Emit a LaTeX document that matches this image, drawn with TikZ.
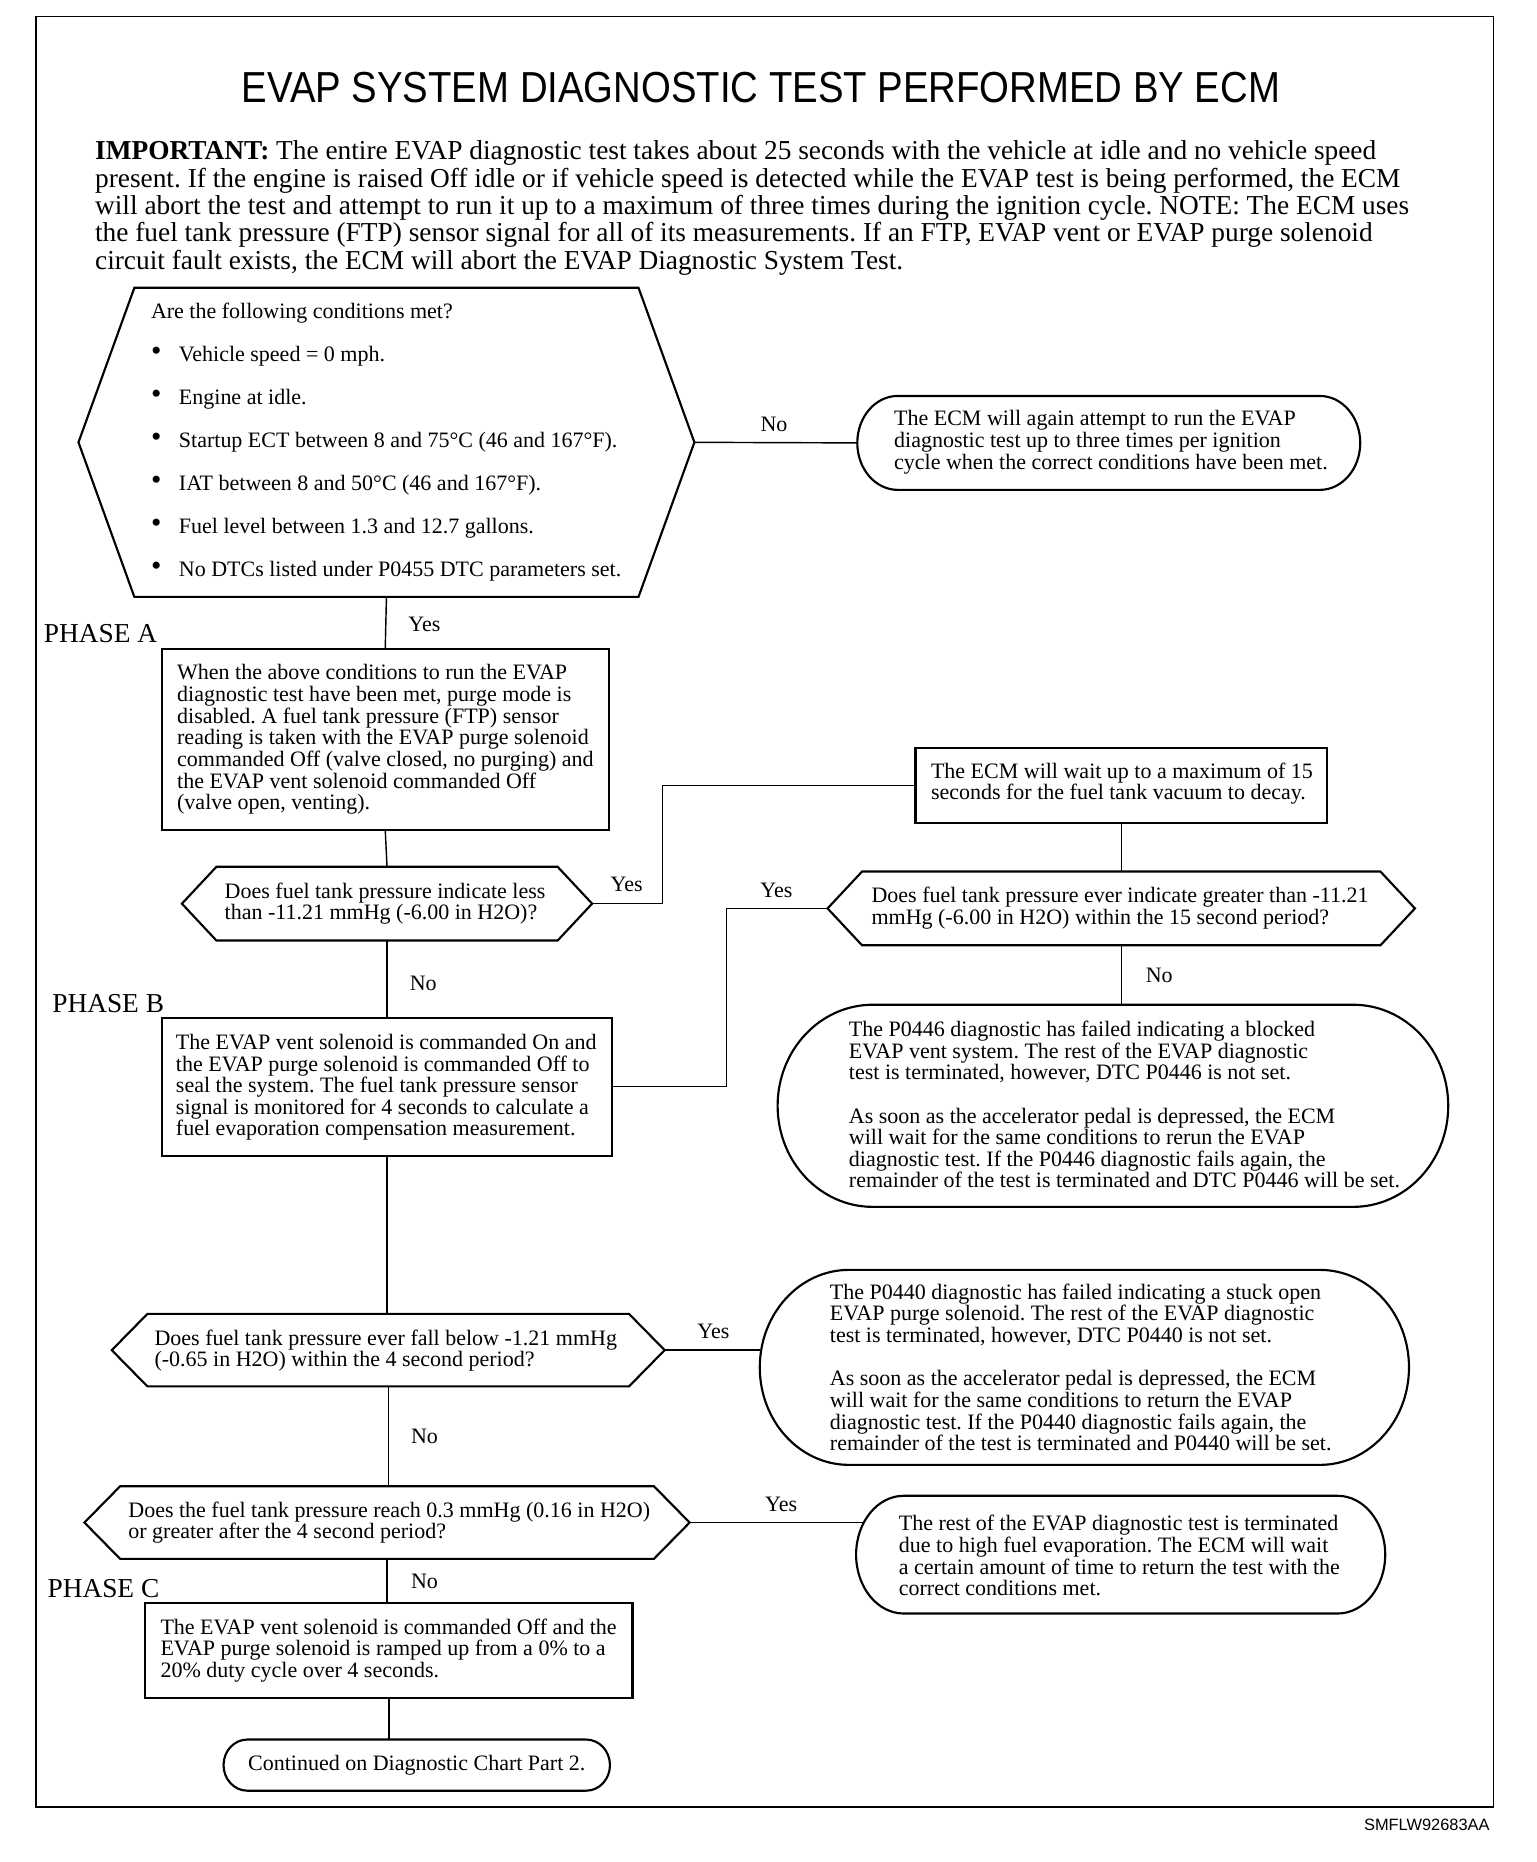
\documentclass[tikz,border=0pt]{standalone}
\usepackage{fontspec}
\setmainfont{Liberation Serif}
\newfontfamily\titlefont{Liberation Sans}[FakeStretch=0.883]
\newfontfamily\codefont{Liberation Sans}
\frenchspacing
\newcommand\hexfig[6]{%
  \node[bbox, minimum width={#3-#2}, minimum height={#5-#4}] (#1) at ({(#2+#3)/2},{(#4+#5)/2}) {};
  \draw[shapeline] ([xshift=#6pt]#1.north west) -- ([xshift=-#6pt]#1.north east) -- (#1.east)
    -- ([xshift=-#6pt]#1.south east) -- ([xshift=#6pt]#1.south west) -- (#1.west) -- cycle;}
\newcommand\roundfig[7]{%
  \node[bbox, minimum width={#3-#2}, minimum height={#5-#4}] (#1) at ({(#2+#3)/2},{(#4+#5)/2}) {};
  \draw[shapeline] ([xshift=#6pt]#1.north west) -- ([xshift=-#6pt]#1.north east)
    arc[start angle=90, end angle=-90, x radius=#6pt, y radius=#7pt]
    -- ([xshift=#6pt]#1.south west)
    arc[start angle=270, end angle=90, x radius=#6pt, y radius=#7pt] -- cycle;}
\newcommand\rectfig[5]{%
  \node[bbox, draw, shapeline, minimum width={#3-#2}, minimum height={#5-#4}] (#1) at ({(#2+#3)/2},{(#4+#5)/2}) {};}
\newcommand\bul{\makebox[23.5pt][l]{\raisebox{0.5pt}{\scalebox{1.35}{\textbullet}}}}
\begin{document}
\begin{tikzpicture}[x=1pt,y=-1pt,
  bbox/.style={rectangle, inner sep=0pt, outer sep=0pt},
  shapeline/.style={line width=1.8pt, line join=miter},
  conn/.style={line width=1.2pt},
  framel/.style={line width=1.4pt},
  txt/.style={inner sep=0pt, outer sep=0pt, anchor=west, align=left, font=\fontsize{18.5}{18.2}\selectfont},
  lbl/.style={inner sep=0pt, outer sep=0pt, font=\fontsize{18.5}{20}\selectfont},
  phase/.style={inner sep=0pt, outer sep=0pt, anchor=west, font=\fontsize{23}{24}\selectfont}]
\useasboundingbox (0,0) rectangle (1292,1566);
\fill[white] (0,0) rectangle (1292,1566);
\draw[framel] (30,14) rectangle (1256,1520);

\node[inner sep=0pt, font=\titlefont\fontsize{36.5}{38}\selectfont] (title) at (640,74) {EVAP SYSTEM DIAGNOSTIC TEST PERFORMED BY ECM};

\node[txt, font=\fontsize{23}{23}\selectfont] (intro) at (80,175) {{\bfseries IMPORTANT:} The entire EVAP diagnostic test takes about 25 seconds with the vehicle at idle and no vehicle speed\\
present. If the engine is raised Off idle or if vehicle speed is detected while the EVAP test is being performed, the ECM\\
will abort the test and attempt to run it up to a maximum of three times during the ignition cycle. NOTE: The ECM uses\\
the fuel tank pressure (FTP) sensor signal for all of its measurements. If an FTP, EVAP vent or EVAP purge solenoid\\
circuit fault exists, the ECM will abort the EVAP Diagnostic System Test.};

% conditions hexagon
\hexfig{h1}{66}{584}{242}{502}{47}
\node[txt, font=\fontsize{18.5}{36.2}\selectfont] (h1t) at (127,371.5) {Are the following conditions met?\\
\bul Vehicle speed = 0 mph.\\
\bul Engine at idle.\\
\bul Startup ECT between 8 and 75°C (46 and 167°F).\\
\bul IAT between 8 and 50°C (46 and 167°F).\\
\bul Fuel level between 1.3 and 12.7 gallons.\\
\bul No DTCs listed under P0455 DTC parameters set.};

\roundfig{b1}{721}{1144}{333}{412}{34}{39.5}
\node[txt] (b1t) at (752,372) {The ECM will again attempt to run the EVAP\\
diagnostic test up to three times per ignition\\
cycle when the correct conditions have been met.};
\draw[conn] (h1.east) -- (b1.west);
\node[lbl] (l1) at (651,357) {No};

% phase A
\node[phase] (phA) at (37,533) {PHASE A};
\rectfig{bA}{136}{512}{546}{698}
\node[txt] (bAt) at (149,622) {When the above conditions to run the EVAP\\
diagnostic test have been met, purge mode is\\
disabled. A fuel tank pressure (FTP) sensor\\
reading is taken with the EVAP purge solenoid\\
commanded Off (valve closed, no purging) and\\
the EVAP vent solenoid commanded Off\\
(valve open, venting).};
\draw[conn] (h1.south) -- (bA.north);
\node[lbl] (l2) at (357,525) {Yes};

\hexfig{h2}{153}{498}{729}{791}{29}
\node[txt] (h2t) at (189,760) {Does fuel tank pressure indicate less\\
than -11.21 mmHg (-6.00 in H2O)?};
\draw[conn] (bA.south) -- (h2.north);

\rectfig{bW}{770}{1116}{629}{692}
\node[txt] (bWt) at (783,659) {The ECM will wait up to a maximum of 15\\
seconds for the fuel tank vacuum to decay.};
\draw[conn] (h2.east) -- ++(59,0) |- (bW.west);
\node[lbl] (l3) at (527,744) {Yes};

\hexfig{h3}{696}{1190}{733}{795}{29}
\node[txt] (h3t) at (733,764) {Does fuel tank pressure ever indicate greater than -11.21\\
mmHg (-6.00 in H2O) within the 15 second period?};
\draw[conn] (bW.south) -- (h3.north);

\roundfig{p46}{654}{1218}{845}{1015}{80}{85}
\node[txt] (p46t) at (714,929) {The P0446 diagnostic has failed indicating a blocked\\
EVAP vent system. The rest of the EVAP diagnostic\\
test is terminated, however, DTC P0446 is not set.\\[18.2pt]
As soon as the accelerator pedal is depressed, the ECM\\
will wait for the same conditions to rerun the EVAP\\
diagnostic test. If the P0446 diagnostic fails again, the\\
remainder of the test is terminated and DTC P0446 will be set.};
\draw[conn] (h3.south) -- (h3.south |- p46.north);
\node[lbl] (l4) at (975,820) {No};

% phase B
\node[phase] (phB) at (44,844) {PHASE B};
\rectfig{bB}{136}{515}{856}{972}
\node[txt] (bBt) at (148,914.5) {The EVAP vent solenoid is commanded On and\\
the EVAP purge solenoid is commanded Off to\\
seal the system. The fuel tank pressure sensor\\
signal is monitored for 4 seconds to calculate a\\
fuel evaporation compensation measurement.};
\draw[conn] (h2.south) -- (h2.south |- bB.north);
\node[lbl] (l5) at (356,827) {No};
\draw[conn] (h3.west) -- ++(-85,0) |- (bB.east);
\node[lbl] (l6) at (653,749) {Yes};

\hexfig{h4}{94}{559}{1105}{1166}{30}
\node[txt] (h4t) at (130,1136) {Does fuel tank pressure ever fall below -1.21 mmHg\\
(-0.65 in H2O) within the 4 second period?};
\draw[conn] (bB.south) -- (bB.south |- h4.north);

\roundfig{p40}{639}{1185}{1068}{1232}{75}{82}
\node[txt] (p40t) at (698,1150) {The P0440 diagnostic has failed indicating a stuck open\\
EVAP purge solenoid. The rest of the EVAP diagnostic\\
test is terminated, however, DTC P0440 is not set.\\[18.2pt]
As soon as the accelerator pedal is depressed, the ECM\\
will wait for the same conditions to return the EVAP\\
diagnostic test. If the P0440 diagnostic fails again, the\\
remainder of the test is terminated and P0440 will be set.};
\draw[conn] (h4.east) -- (h4.east -| p40.west);
\node[lbl] (l7) at (600,1120) {Yes};

\hexfig{h5}{71}{580}{1250}{1311}{30}
\node[txt] (h5t) at (108,1280.5) {Does the fuel tank pressure reach 0.3 mmHg (0.16 in H2O)\\
or greater after the 4 second period?};
\draw[conn] (h4.south) -- (h4.south |- h5.north);
\node[lbl] (l8) at (357,1208) {No};

\roundfig{phe}{720}{1165}{1258}{1357}{40}{49.5}
\coordinate (pheJ) at (726.5,1280.5);
\node[txt] (phet) at (756,1308.5) {The rest of the EVAP diagnostic test is terminated\\
due to high fuel evaporation. The ECM will wait\\
a certain amount of time to return the test with the\\
correct conditions met.};
\draw[conn] (h5.east) -- (pheJ);
\node[lbl] (l9) at (657,1265) {Yes};

% phase C
\node[phase] (phC) at (40,1336) {PHASE C};
\rectfig{bC}{122}{532}{1348}{1428}
\node[txt] (bCt) at (135,1388) {The EVAP vent solenoid is commanded Off and the\\
EVAP purge solenoid is ramped up from a 0\% to a\\
20\% duty cycle over 4 seconds.};
\draw[conn] (h5.south) -- (h5.south |- bC.north);
\node[lbl] (l10) at (357,1330) {No};

\roundfig{term}{188}{513}{1463}{1506}{20}{21.5}
\node[lbl] (termt) at (350.5,1484.5) {Continued on Diagnostic Chart Part 2.};
\draw[conn] (bC.south) -- (bC.south |- term.north);

\node[inner sep=0pt, anchor=west, font=\codefont\fontsize{13.8}{15}\selectfont] (code) at (1147,1535) {SMFLW92683AA};
\end{tikzpicture}
\end{document}
